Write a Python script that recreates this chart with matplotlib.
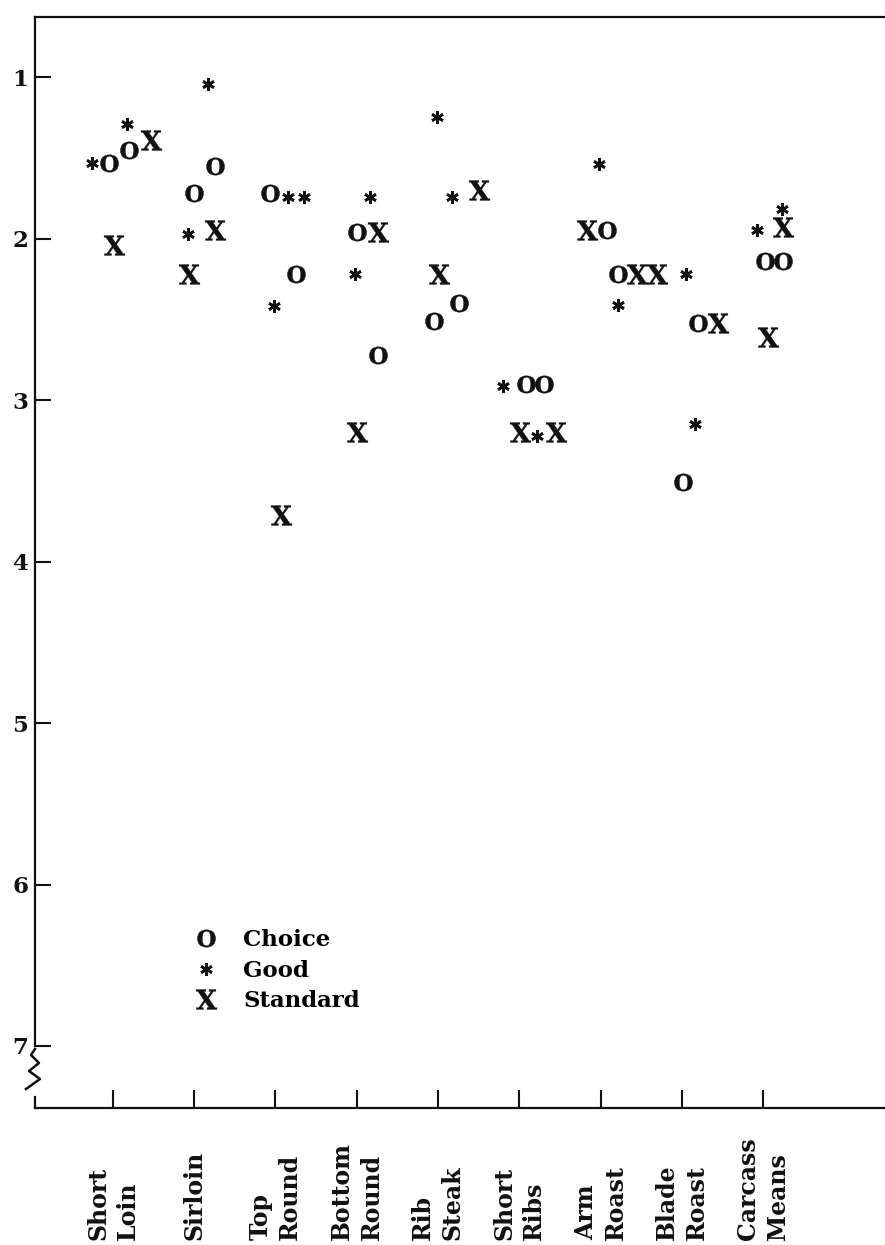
import matplotlib
matplotlib.use("Agg")
import matplotlib.pyplot as plt

# cuts along the x axis
cuts = ["Short\nLoin", "Sirloin", "Top\nRound", "Bottom\nRound", "Rib\nSteak",
        "Short\nRibs", "Arm\nRoast", "Blade\nRoast", "Carcass\nMeans"]
cut_pos = [1, 2, 3, 4, 5, 6, 7, 8, 9]
score_ticks = [1, 2, 3, 4, 5, 6, 7]

# Choice (O) - x in cut units, y = score
choice_x = [0.95, 1.20, 2.00, 2.25, 2.93, 3.25, 4.00, 4.26, 4.95, 5.26,
            6.08, 6.30, 7.08, 7.21, 8.20, 8.01, 9.02, 9.24]
choice_y = [1.53, 1.45, 1.72, 1.55, 1.72, 2.22, 1.96, 2.72, 2.51, 2.40,
            2.90, 2.90, 1.95, 2.22, 2.52, 3.51, 2.14, 2.14]

# Good (*)
good_x = [0.74, 1.17, 2.17, 1.92, 3.15, 3.35, 2.98, 4.16, 3.98, 4.99,
          5.17, 5.80, 6.22, 6.98, 7.22, 8.05, 8.16, 8.92, 9.23]
good_y = [1.53, 1.29, 1.04, 1.97, 1.74, 1.74, 2.42, 1.74, 2.22, 1.25,
          1.74, 2.91, 3.22, 1.54, 2.41, 2.22, 3.15, 1.95, 1.82]

# Standard (X)
std_x = [1.47, 1.01, 2.25, 1.94, 3.07, 4.26, 4.00, 5.51, 5.01, 6.01,
         6.45, 6.83, 7.45, 7.69, 8.45, 9.24, 9.06]
std_y = [1.39, 2.04, 1.95, 2.22, 3.71, 1.96, 3.20, 1.70, 2.22, 3.20,
         3.20, 1.95, 2.22, 2.22, 2.52, 1.93, 2.61]

plt.rcParams["mathtext.fontset"] = "dejavuserif"

ink = "#111111"
fig = plt.figure(figsize=(8.85, 12.45), dpi=100)
ax = fig.add_axes([35 / 885, 1 - 1108 / 1245, 850 / 885, 1091 / 1245])

ax.plot(choice_x, choice_y, ls="none", marker=r"$\mathbf{O}$", ms=13,
        mfc=ink, mec=ink, mew=0.3, label="Choice")
ax.plot(good_x, good_y, ls="none", marker=(6, 2, 0), ms=9,
        mec=ink, mew=1.9, label="Good")
ax.plot(std_x, std_y, ls="none", marker=r"$\mathbf{X}$", ms=15,
        mfc=ink, mec=ink, mew=0.3, label="Standard")

ax.set_xlim(0.041, 10.5)
ax.set_ylim(7.384, 0.628)

ax.spines["right"].set_visible(False)
for s in ["left", "top", "bottom"]:
    ax.spines[s].set_linewidth(1.6)
    ax.spines[s].set_color(ink)
ax.spines["left"].set_bounds(7.0, 0.628)

ax.set_yticks(score_ticks)
ax.set_yticklabels([str(t) for t in score_ticks], family="DejaVu Serif",
                   weight="bold", fontsize=16.5)
ax.set_xticks(cut_pos)
ax.set_xticklabels(cuts, rotation=90, va="bottom", ha="center",
                   multialignment="left", linespacing=1.3,
                   family="DejaVu Serif", weight="bold", fontsize=17)
ax.tick_params(axis="y", direction="in", length=11.5, width=1.5, pad=5, colors=ink)
ax.tick_params(axis="x", direction="in", length=13, width=1.5, pad=95, colors=ink)

# axis break on the left spine
zx = [35, 31, 39, 29, 40, 26]
zy = [1049, 1055, 1063, 1071, 1079, 1089]
ax.plot([(x - 35) / 850 for x in zx], [1 - (y - 17) / 1091 for y in zy],
        color=ink, lw=1.8, transform=ax.transAxes, clip_on=False)
ax.plot([0, 0], [0, 11 / 1091], color=ink, lw=1.6,
        transform=ax.transAxes, clip_on=False)

leg = ax.legend(loc="upper left", bbox_to_anchor=(195 / 885, 1 - 929 / 1245),
                bbox_transform=fig.transFigure, frameon=False, borderpad=0,
                borderaxespad=0, handlelength=1.0, handletextpad=1.1,
                labelspacing=0.38, prop={"family": "DejaVu Serif",
                                         "weight": "bold", "size": 16.5})

fig.savefig("out.png", dpi=100)
